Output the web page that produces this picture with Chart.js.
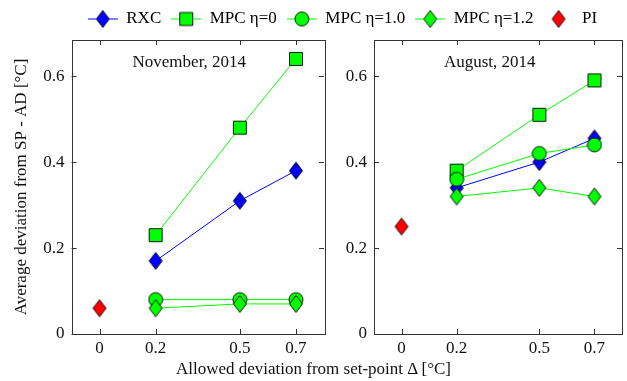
<!DOCTYPE html>
<html>
<head>
<meta charset="utf-8">
<script src="https://cdn.jsdelivr.net/npm/chart.js@4"></script>
<style>
  body { margin: 0; background: #fff; }
  #wrap { position: relative; width: 627px; height: 381px; overflow: hidden; }
  canvas { position: absolute; top: 0; }
  #xtitle { position: absolute; left: 0; width: 627px; top: 359px; text-align: center;
            font: 17px "Liberation Serif", serif; color: #111; white-space: nowrap; }
</style>
</head>
<body>
<div id="wrap">
  <canvas id="left" width="340" height="381" style="left:0"></canvas>
  <canvas id="right" width="287" height="381" style="left:340px"></canvas>
  <canvas id="legend" width="627" height="80" style="left:0"></canvas>
  <div id="xtitle">Allowed deviation from set-point Δ [°C]</div>
</div>
<script>
// data
const deltas = [0.2, 0.5, 0.7];
const piDelta = [0];
const xTicks = [0, 0.2, 0.5, 0.7];
const yTicks = [0, 0.2, 0.4, 0.6];

const novRXC = [0.17, 0.31, 0.38];
const novMPC0 = [0.23, 0.48, 0.64];
const novMPC10 = [0.08, 0.08, 0.08];
const novMPC12 = [0.06, 0.07, 0.07];
const novPI = [0.06];

const augRXC = [0.34, 0.40, 0.455];
const augMPC0 = [0.38, 0.51, 0.59];
const augMPC10 = [0.36, 0.42, 0.44];
const augMPC12 = [0.32, 0.34, 0.32];
const augPI = [0.25];

const labels = ['RXC', 'MPC η=0', 'MPC η=1.0', 'MPC η=1.2', 'PI'];
const colors = ['#0000ff', '#00ff00', '#00ff00', '#00ff00', '#ff0000'];
const shapes = ['diamond', 'square', 'circle', 'diamond', 'diamond'];

const FONT = '"Liberation Serif", "Times New Roman", serif';
const INK = '#111';

function drawShape(g, shape, cx, cy, fill) {
    g.fillStyle = fill;
    g.strokeStyle = '#000';
    g.lineWidth = 0.9;
    g.beginPath();
    if (shape === 'diamond') {
        g.moveTo(cx, cy - 8.5);
        g.lineTo(cx + 6.5, cy);
        g.lineTo(cx, cy + 8.5);
        g.lineTo(cx - 6.5, cy);
        g.closePath();
    } else if (shape === 'square') {
        g.rect(cx - 6.5, cy - 6.5, 13, 13);
    } else {
        g.arc(cx, cy, 7, 0, Math.PI * 2);
    }
    g.fill();
    g.stroke();
}

function marker(shape, fill) {
    const c = document.createElement('canvas');
    c.width = 16;
    c.height = 20;
    drawShape(c.getContext('2d'), shape, 8, 10, fill);
    return c;
}

function legendMarker(i) {
    const c = document.createElement('canvas');
    c.width = 30;
    c.height = 20;
    const g = c.getContext('2d');
    if (i < 4) {
        g.strokeStyle = colors[i];
        g.lineWidth = 1;
        g.beginPath();
        g.moveTo(0, 10.5);
        g.lineTo(30, 10.5);
        g.stroke();
    }
    drawShape(g, shapes[i], 15, 10.5, colors[i]);
    return c;
}

function makeSets(series) {
    return series.map((vals, i) => ({
        label: labels[i],
        data: (i === 4 ? piDelta : deltas).map((x, j) => ({x: x, y: vals[j]})),
        showLine: i < 4,
        borderColor: colors[i],
        borderWidth: 1,
        pointStyle: marker(shapes[i], colors[i]),
        order: 5 - i
    }));
}

// inward ticks on all four sides + box, and the panel caption
const framePlugin = {
    id: 'frame',
    afterDatasetsDraw(chart, args, opts) {
        const {ctx, chartArea: a, scales} = chart;
        ctx.save();
        ctx.strokeStyle = '#333';
        ctx.lineWidth = 1;
        ctx.beginPath();
        xTicks.forEach(v => {
            const px = Math.round(scales.x.getPixelForValue(v)) + 0.5;
            ctx.moveTo(px, a.bottom); ctx.lineTo(px, a.bottom - 5);
            ctx.moveTo(px, a.top); ctx.lineTo(px, a.top + 5);
        });
        yTicks.forEach(v => {
            const py = Math.round(scales.y.getPixelForValue(v)) + 0.5;
            ctx.moveTo(a.left, py); ctx.lineTo(a.left + 5, py);
            ctx.moveTo(a.right, py); ctx.lineTo(a.right - 5, py);
        });
        ctx.stroke();
        ctx.strokeRect(Math.round(a.left) + 0.5, Math.round(a.top) + 0.5,
            Math.round(a.right - a.left), Math.round(a.bottom - a.top));
        ctx.fillStyle = INK;
        ctx.font = '17px ' + FONT;
        ctx.textAlign = 'center';
        ctx.textBaseline = 'middle';
        ctx.fillText(opts.caption, scales.x.getPixelForValue(0.32), scales.y.getPixelForValue(0.632));
        ctx.restore();
    }
};

function panel(id, series, caption, yWidth, padRight, withTitle) {
    return new Chart(document.getElementById(id), {
        type: 'scatter',
        data: {datasets: makeSets(series)},
        options: {
            responsive: false,
            animation: false,
            layout: {padding: {top: 40, right: padRight, left: 0, bottom: 0}},
            plugins: {
                legend: {display: false},
                tooltip: {enabled: false},
                frame: {caption: caption}
            },
            scales: {
                x: {
                    type: 'linear',
                    min: -0.1,
                    max: 0.8,
                    grid: {display: false, drawTicks: false},
                    border: {display: false},
                    afterBuildTicks: s => { s.ticks = xTicks.map(v => ({value: v})); },
                    afterFit: s => { s.height = 47; },
                    ticks: {padding: 4, color: INK, font: {family: FONT, size: 17}}
                },
                y: {
                    min: 0,
                    max: 0.684,
                    grid: {display: false, drawTicks: false},
                    border: {display: false},
                    afterBuildTicks: s => { s.ticks = yTicks.map(v => ({value: v})); },
                    afterFit: s => { s.width = yWidth; },
                    ticks: {padding: 7, color: INK, font: {family: FONT, size: 17}},
                    title: {
                        display: withTitle,
                        text: 'Average deviation from SP - AD [°C]',
                        color: INK,
                        font: {family: FONT, size: 17},
                        padding: {top: 11, bottom: 0}
                    }
                }
            }
        },
        plugins: [framePlugin]
    });
}

panel('left', [novRXC, novMPC0, novMPC10, novMPC12, novPI], 'November, 2014', 71.5, 16, true);
panel('right', [augRXC, augMPC0, augMPC10, augMPC12, augPI], 'August, 2014', 34, 1, false);

// shared legend across the top
new Chart(document.getElementById('legend'), {
    type: 'scatter',
    data: {datasets: labels.map((l, i) => ({label: l, data: [], borderColor: colors[i]}))},
    options: {
        responsive: false,
        animation: false,
        layout: {padding: {left: 58, top: 0}},
        scales: {x: {display: false}, y: {display: false}},
        plugins: {
            tooltip: {enabled: false},
            legend: {
                position: 'top',
                onClick: null,
                labels: {
                    usePointStyle: true,
                    pointStyleWidth: 30,
                    padding: 10,
                    color: INK,
                    font: {family: FONT, size: 17},
                    generateLabels: chart => labels.map((l, i) => ({
                        text: l,
                        pointStyle: legendMarker(i),
                        fillStyle: colors[i],
                        strokeStyle: colors[i],
                        lineWidth: 0,
                        hidden: false,
                        datasetIndex: i
                    }))
                }
            }
        }
    }
});
</script>
</body>
</html>
